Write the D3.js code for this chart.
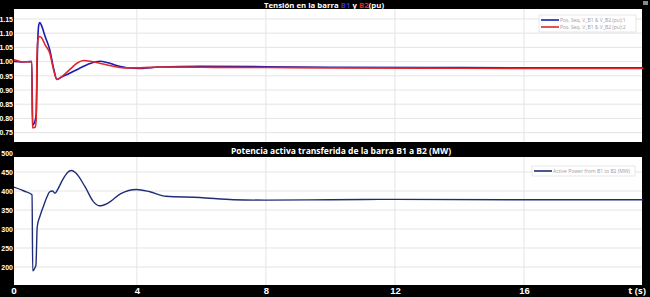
<!DOCTYPE html>
<html>
<head>
<meta charset="utf-8">
<script src="https://cdn.jsdelivr.net/npm/d3@7"></script>
<style>
  body { margin: 0; background: #000; }
  svg { display: block; font-family: "Open Sans", sans-serif; }
</style>
</head>
<body>
<div id="chart"></div>
<script>
let width = 650;
let height = 297;

// voltage B1 (pu)
let tB1 = [0.19, 0.4, 0.74, 0.77, 0.86, 0.88, 0.92, 0.96, 0.99, 1.05, 1.15, 1.30, 1.42, 1.52, 1.65, 1.9, 2.2, 2.55, 2.85, 3.1, 3.4, 3.7, 4.1, 4.7, 6, 8, 10, 13, 16, 19.7];
let vB1 = [1.000, 0.999, 1.000, 0.776, 0.800, 0.820, 1.050, 1.130, 1.137, 1.125, 1.090, 1.041, 0.975, 0.937, 0.945, 0.958, 0.975, 0.993, 1.001, 0.996, 0.985, 0.978, 0.976, 0.981, 0.983, 0.982, 0.980, 0.979, 0.978, 0.978];

// voltage B2 (pu)
let tB2 = [0.19, 0.3, 0.45, 0.74, 0.76, 0.85, 0.88, 0.90, 0.93, 0.98, 1.05, 1.15, 1.30, 1.42, 1.52, 1.7, 1.95, 2.15, 2.35, 2.6, 2.85, 3.2, 3.6, 4.1, 4.7, 6, 8, 10, 13, 16, 19.7];
let vB2 = [1.006, 1.003, 0.999, 1.000, 0.767, 0.770, 0.800, 1.000, 1.075, 1.088, 1.083, 1.060, 1.029, 0.970, 0.937, 0.950, 0.975, 0.995, 1.004, 1.000, 0.994, 0.985, 0.978, 0.978, 0.981, 0.980, 0.979, 0.978, 0.977, 0.976, 0.976];

// active power B1 -> B2 (MW)
let tP = [0.19, 0.5, 0.75, 0.77, 0.85, 0.87, 0.91, 1.0, 1.10, 1.2, 1.30, 1.38, 1.46, 1.55, 1.7, 1.85, 1.97, 2.1, 2.4, 2.65, 2.85, 3.1, 3.5, 3.99, 4.4, 4.9, 5.95, 7, 8, 10, 12, 16, 19.7];
let pMW = [410, 400, 390, 190, 200, 205, 306, 335, 359, 382, 398, 400, 394, 405, 430, 449, 454, 448, 410, 372, 361, 368, 393, 404, 398, 386, 383, 377, 376, 377, 378, 377, 377];

let xTicks = [4, 8, 12, 16];
let vTicks = [0.75, 0.80, 0.85, 0.90, 0.95, 1.00, 1.05, 1.10, 1.15];
let pTicks = [200, 250, 300, 350, 400, 450, 500];

let plotLeft = 14;
let plotRight = 642;

let svg = d3.select("#chart").append("svg")
    .attr("width", width)
    .attr("height", height)
    .style("background-color", "#000");

let xScale = d3.scaleLinear().domain([0.19, 19.66]).range([plotLeft, plotRight]);

let yTop = d3.scaleLinear().domain([0.717, 1.185]).range([142, 9]);
let yBot = d3.scaleLinear().domain([152.6, 489.5]).range([285, 157]);

function drawPanel(yScale, ticks, fmt) {
    let top = yScale.range()[1];
    let bottom = yScale.range()[0];
    svg.append("rect")
        .attr("x", plotLeft).attr("y", top)
        .attr("width", plotRight - plotLeft).attr("height", bottom - top)
        .attr("fill", "#fff");

    svg.append("g").selectAll("line.h").data(ticks.filter(t => yScale(t) > top)).enter()
        .append("line")
        .attr("x1", plotLeft).attr("x2", plotRight)
        .attr("y1", d => yScale(d)).attr("y2", d => yScale(d))
        .attr("stroke", "#e4e4e4").attr("stroke-width", 1);

    svg.append("g").selectAll("line.v").data(xTicks).enter()
        .append("line")
        .attr("x1", d => xScale(d)).attr("x2", d => xScale(d))
        .attr("y1", top).attr("y2", bottom)
        .attr("stroke", "#e4e4e4").attr("stroke-width", 1);

    let yAxis = d3.axisLeft(yScale).tickValues(ticks).tickFormat(fmt).tickSize(0).tickPadding(1);
    let g = svg.append("g").attr("transform", "translate(" + plotLeft + ",0)").call(yAxis);
    g.select(".domain").remove();
    g.selectAll("text")
        .attr("fill", "#fff")
        .style("font-size", "7px")
        .style("font-weight", "bold");
}

drawPanel(yTop, vTicks, d3.format(".2f"));
drawPanel(yBot, pTicks, d3.format("d"));

// lines
let lineTop = d3.line()
    .x(d => xScale(d[0]))
    .y(d => yTop(d[1]))
    .curve(d3.curveMonotoneX);

let lineBot = d3.line()
    .x(d => xScale(d[0]))
    .y(d => yBot(d[1]))
    .curve(d3.curveMonotoneX);

svg.append("path")
    .datum(d3.zip(tB1, vB1))
    .attr("d", lineTop)
    .attr("fill", "none")
    .attr("stroke", "#1a1ab4")
    .attr("stroke-width", 1.6);

svg.append("path")
    .datum(d3.zip(tB2, vB2))
    .attr("d", lineTop)
    .attr("fill", "none")
    .attr("stroke", "#e0262a")
    .attr("stroke-width", 1.6);

svg.append("path")
    .datum(d3.zip(tP, pMW))
    .attr("d", lineBot)
    .attr("fill", "none")
    .attr("stroke", "#1f2d78")
    .attr("stroke-width", 1.4);

// legends
function legend(x, y, w, items) {
    let h = items.length * 7 + 3;
    svg.append("rect")
        .attr("x", x).attr("y", y).attr("width", w).attr("height", h)
        .attr("fill", "#fff").attr("stroke", "#d8d8d8").attr("stroke-width", 0.6);
    let g = svg.append("g").selectAll("g").data(items).enter().append("g");
    g.append("line")
        .attr("x1", x + 2).attr("x2", x + 20)
        .attr("y1", (d, i) => y + 5 + i * 7).attr("y2", (d, i) => y + 5 + i * 7)
        .attr("stroke", d => d.color).attr("stroke-width", 1.6);
    g.append("text")
        .attr("x", x + 21).attr("y", (d, i) => y + 6.8 + i * 7)
        .attr("fill", "#9a9aa8")
        .style("font-size", "5px")
        .text(d => d.label);
}

legend(539, 15, 97, [
    { label: "Pos. Seq. V_B1 & V_B2 (pu):1", color: "#1a1ab4" },
    { label: "Pos. Seq. V_B1 & V_B2 (pu):2", color: "#e0262a" }
]);
legend(532, 166, 103, [
    { label: "Active Power from B1 to B2 (MW)", color: "#1f2d78" }
]);

// titles
let t1 = svg.append("text")
    .attr("x", 324).attr("y", 7.5)
    .attr("text-anchor", "middle")
    .attr("fill", "#fff")
    .style("font-size", "7.8px")
    .style("font-weight", "bold");
t1.append("tspan").text("Tensión en la barra ");
t1.append("tspan").attr("fill", "#3434b8").text("B1");
t1.append("tspan").text(" y ");
t1.append("tspan").attr("fill", "#e0262a").text("B2");
t1.append("tspan").text("(pu)");

svg.append("text")
    .attr("x", 341).attr("y", 154)
    .attr("text-anchor", "middle")
    .attr("fill", "#fff")
    .style("font-size", "8.5px")
    .style("font-weight", "bold")
    .text("Potencia activa transferida de la barra B1 a B2 (MW)");

// small icon top right
svg.append("rect")
    .attr("x", 643).attr("y", 1).attr("width", 5).attr("height", 4)
    .attr("fill", "#888");

// x axis labels
let xAxis = d3.axisBottom(xScale).tickValues(xTicks).tickFormat(d3.format("d")).tickSize(0).tickPadding(1);
let xg = svg.append("g").attr("transform", "translate(0,286)").call(xAxis);
xg.select(".domain").remove();
xg.selectAll("text")
    .attr("fill", "#fff")
    .style("font-size", "9.5px")
    .style("font-weight", "bold");

svg.append("text")
    .attr("x", plotLeft).attr("y", 294)
    .attr("text-anchor", "middle")
    .attr("fill", "#fff")
    .style("font-size", "9.5px")
    .style("font-weight", "bold")
    .text("0");

svg.append("text")
    .attr("x", 646).attr("y", 293.5)
    .attr("text-anchor", "end")
    .attr("fill", "#fff")
    .style("font-size", "9.5px")
    .style("font-weight", "bold")
    .text("t (s)");
</script>
</body>
</html>
